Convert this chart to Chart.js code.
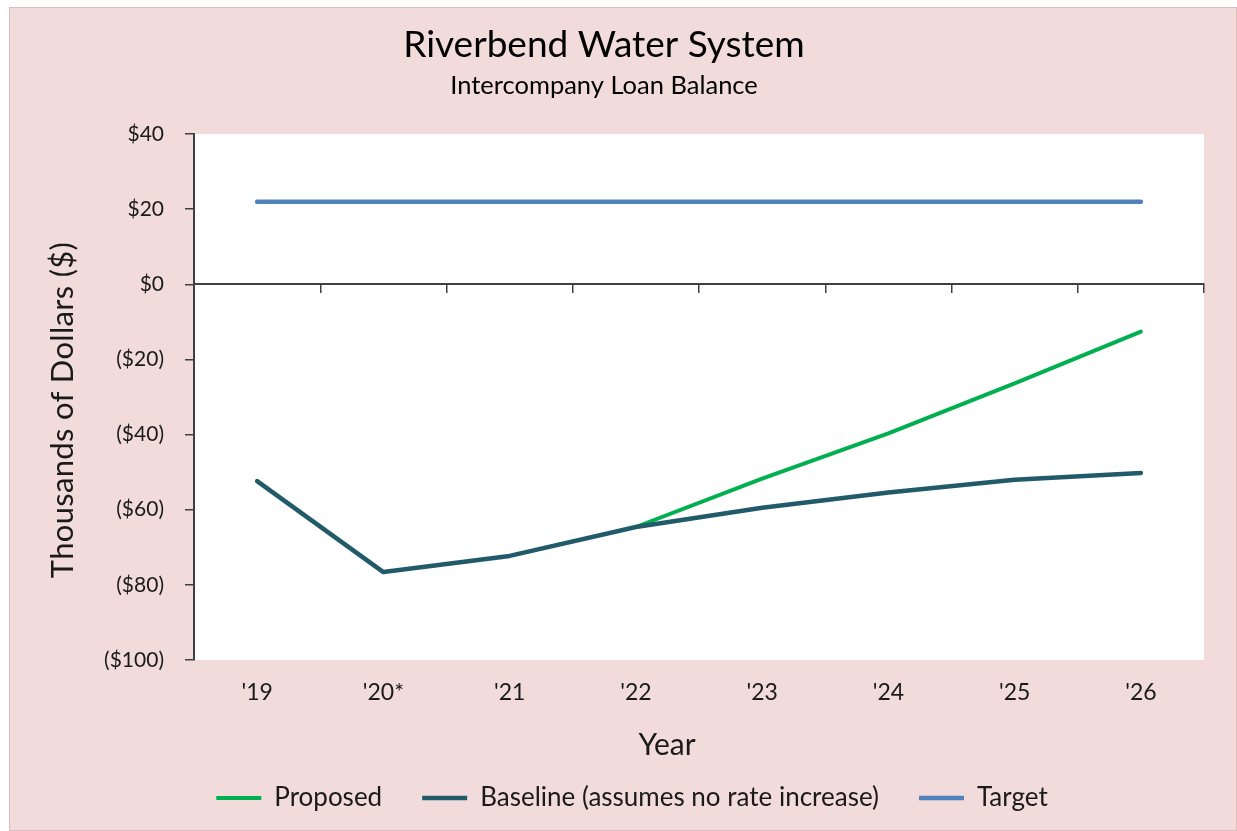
<!DOCTYPE html>
<html lang="en">
<head>
    <meta charset="UTF-8">
    <title>Riverbend Water System</title>
    <script src="https://cdn.jsdelivr.net/npm/chart.js"></script>
    <style>
        body {
            margin: 0;
            background-color: #ffffff;
            font-family: Lato, sans-serif;
        }
        .chart-box {
            position: absolute;
            left: 9px;
            top: 7px;
            width: 1226px;
            height: 822px;
            background-color: #f2dcdb;
            border: 1px solid #dcbcbc;
        }
    </style>
</head>
<body>
    <div class="chart-box">
        <canvas id="loanChart"></canvas>
    </div>

    <script>
        // Chart data (thousands of dollars)
        const years = ["'19", "'20*", "'21", "'22", "'23", "'24", "'25", "'26"];
        const proposed = [null, null, null, -64.6, -51.7, -39.7, -26.4, -12.6];
        const baseline = [-52.4, -76.6, -72.3, -64.6, -59.5, -55.4, -52.0, -50.2];
        const target = [22, 22, 22, 22, 22, 22, 22, 22];
        const yMin = -100;
        const yMax = 40;
        const yStep = 20;

        const chartTitle = 'Riverbend Water System';
        const chartSubtitle = 'Intercompany Loan Balance';
        const xTitle = 'Year';
        const yTitle = 'Thousands of Dollars ($)';
        const axisColor = '#404040';
        const textColor = '#1a1a1a';

        // White plot area, titles and axis titles (placed like the Excel original)
        const decorPlugin = {
            id: 'decor',
            beforeDraw(chart) {
                const ctx = chart.ctx;
                const a = chart.chartArea;
                ctx.save();
                ctx.fillStyle = '#ffffff';
                ctx.fillRect(a.left, a.top, a.right - a.left, a.bottom - a.top);

                ctx.fillStyle = '#000000';
                ctx.textAlign = 'center';
                ctx.textBaseline = 'alphabetic';
                ctx.font = '37px Lato';
                ctx.fillText(chartTitle, 594, 49);
                ctx.font = '25.5px Lato';
                ctx.fillText(chartSubtitle, 594, 86);

                ctx.fillStyle = textColor;
                ctx.font = '30px Lato';
                ctx.fillText(xTitle, 657, 747);

                ctx.translate(63, 402);
                ctx.rotate(-Math.PI / 2);
                ctx.font = '31px Lato';
                ctx.letterSpacing = '0.3px';
                ctx.fillText(yTitle, 0, 0);
                ctx.restore();
            }
        };

        const money = (v) => v < 0 ? '($' + (-v) + ')' : '$' + v;

        const ctx = document.getElementById('loanChart').getContext('2d');
        const loanChart = new Chart(ctx, {
            type: 'line',
            data: {
                labels: years,
                datasets: [
                    {
                        label: 'Proposed',
                        data: proposed,
                        borderColor: '#00b050',
                        backgroundColor: '#00b050',
                        borderWidth: 4,
                        order: 1
                    },
                    {
                        label: 'Baseline (assumes no rate increase)',
                        data: baseline,
                        borderColor: '#215a69',
                        backgroundColor: '#215a69',
                        borderWidth: 4.5,
                        order: 0
                    },
                    {
                        label: 'Target',
                        data: target,
                        borderColor: '#4f81bd',
                        backgroundColor: '#4f81bd',
                        borderWidth: 4.5,
                        order: 2
                    }
                ]
            },
            options: {
                responsive: true,
                maintainAspectRatio: false,
                animation: false,
                datasets: {
                    line: {
                        pointRadius: 0,
                        tension: 0,
                        fill: false,
                        borderCapStyle: 'round',
                        borderJoinStyle: 'round'
                    }
                },
                layout: {
                    // left padding nudges the centred legend to the right
                    padding: { top: 126, right: 32, bottom: 9, left: 50 }
                },
                plugins: {
                    title: { display: false },
                    tooltip: { enabled: false },
                    legend: {
                        position: 'bottom',
                        labels: {
                            usePointStyle: true,
                            pointStyle: 'line',
                            pointStyleWidth: 45,
                            padding: 40,
                            color: textColor,
                            font: { family: 'Lato', size: 26 },
                            sort: (a, b) => a.datasetIndex - b.datasetIndex
                        }
                    }
                },
                scales: {
                    x: {
                        type: 'category',
                        position: 'bottom',
                        offset: true,
                        border: { display: false },
                        grid: { display: false, drawTicks: false },
                        ticks: {
                            padding: 19,
                            color: textColor,
                            font: { family: 'Lato', size: 23 }
                        },
                        afterFit: (scale) => { scale.height = 85; }
                    },
                    // axis line crossing at $0 with tick marks between categories
                    x2: {
                        type: 'category',
                        labels: years,
                        position: { y: 0 },
                        offset: true,
                        border: { display: true, color: axisColor, width: 2 },
                        grid: {
                            offset: true,
                            drawOnChartArea: false,
                            drawTicks: true,
                            tickLength: 8,
                            color: axisColor,
                            lineWidth: 1.5
                        },
                        ticks: { display: false }
                    },
                    y: {
                        min: yMin,
                        max: yMax,
                        border: { display: true, color: axisColor, width: 2 },
                        grid: {
                            drawOnChartArea: false,
                            drawTicks: true,
                            tickLength: 9,
                            color: axisColor,
                            lineWidth: 1.5
                        },
                        ticks: {
                            stepSize: yStep,
                            padding: 21,
                            color: textColor,
                            font: { family: 'Lato', size: 21 },
                            callback: money
                        },
                        afterFit: (scale) => { scale.width = 134; }
                    }
                }
            },
            plugins: [decorPlugin]
        });
    </script>
</body>
</html>
